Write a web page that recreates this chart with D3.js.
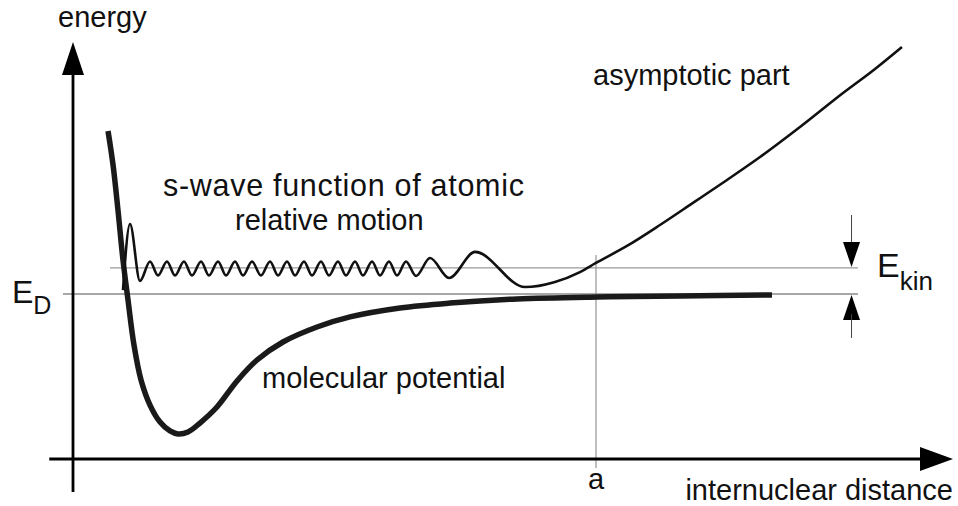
<!DOCTYPE html>
<html><head><meta charset="utf-8">
<script src="https://cdn.jsdelivr.net/npm/d3@7"></script>
<style>
html,body{margin:0;padding:0;background:#fff;}
svg{display:block;}
text{font-family:"Liberation Sans",Arial,Helvetica,sans-serif;fill:#111;}
</style></head><body>
<svg id="chart" width="958" height="506"></svg>
<script>
// ---- data (internuclear distance r, energy E; arbitrary units) ----
const potentialR = [3.98, 4.55, 5.11, 5.68, 6.25, 6.93, 7.73, 8.75, 9.89, 11.02, 11.93, 13.07, 14.43, 16.36, 18.64, 20.91, 23.86, 27.73, 31.48, 37.16, 42.84, 50.45, 59.55, 68.98, 79.43];
const potentialE = [98.8, 78.2, 50.9, 20.6, -3.6, -30.9, -52.1, -67.3, -77.6, -83.0, -84.8, -83.6, -78.2, -68.5, -52.7, -40.0, -29.1, -20.0, -13.9, -8.5, -5.5, -3.0, -1.8, -1.2, -0.6];

const waveR = [5.68, 6.48, 7.61,
  8.75, 9.66, 10.68, 11.59, 12.61, 13.52, 14.55, 15.45, 16.48, 17.39, 18.41, 19.32, 20.34, 21.36,
  22.39, 23.30, 24.32, 25.23, 26.25, 27.16, 28.18, 29.09, 30.11, 31.02, 32.05, 32.95, 33.98, 34.89,
  35.91, 36.82, 37.84, 38.98, 40.57, 42.73, 45.68, 51.36, 54.77, 57.61, 59.43, 62.95, 66.70, 70.45,
  74.32, 78.07, 82.61, 87.50, 91.14, 94.20];
const waveE = [2.4, 42.4, 7.9,
  19.7, 11.2, 19.7, 11.2, 19.7, 11.2, 19.7, 11.2, 19.7, 11.2, 19.7, 11.2, 19.7, 11.2,
  19.7, 11.2, 19.7, 11.2, 19.7, 11.2, 19.7, 11.2, 19.7, 11.2, 19.7, 11.2, 19.7, 11.2,
  19.7, 11.2, 19.7, 10.9, 21.8, 9.7, 25.5, 4.2, 7.3, 13.3, 18.8, 29.1, 41.8, 55.2,
  69.1, 83.0, 101.2, 121.8, 136.4, 149.7];

const levelNames = ["D", "kin"];
const levelValues = [0, 15.8];          // E_D and E_D + E_kin
const markerR = 59.43;                  // r = a
const markerLabel = "a";
const axisLabels = ["internuclear distance", "energy"];
const curveLabels = ["s-wave function of atomic", "relative motion", "molecular potential", "asymptotic part"];

// ---- drawing ----
const svg = d3.select("#chart");
const x = d3.scaleLinear().domain([0, 100]).range([73, 953]);
const y = d3.scaleLinear().domain([-100, 150]).range([459, 46.5]);

const potential = potentialR.map((r, i) => [r, potentialE[i]]);
const wave = waveR.map((r, i) => [r, waveE[i]]);

// reference lines
svg.append("line")
  .attr("x1", x(-1.14)).attr("x2", x(89.2))
  .attr("y1", y(levelValues[0])).attr("y2", y(levelValues[0]))
  .attr("stroke", "#8a8a8a").attr("stroke-width", 1.3);
svg.append("line")
  .attr("x1", x(4.2)).attr("x2", x(89.2))
  .attr("y1", y(levelValues[1])).attr("y2", y(levelValues[1]))
  .attr("stroke", "#9a9a9a").attr("stroke-width", 1.3);
svg.append("line")
  .attr("x1", x(markerR)).attr("x2", x(markerR))
  .attr("y1", y(23.6)).attr("y2", y(-105.5))
  .attr("stroke", "#8a8a8a").attr("stroke-width", 1.1);

const line = d3.line().x(d => x(d[0])).y(d => y(d[1]));

svg.append("path").datum(potential)
  .attr("d", line.curve(d3.curveCatmullRom.alpha(0.5)))
  .attr("fill", "none").attr("stroke", "#1a1a1a").attr("stroke-width", 5.5);

svg.append("path").datum(wave)
  .attr("d", d3.line().x(d => x(d[0])).y(d => y(d[1])).curve(d3.curveMonotoneX))
  .attr("fill", "none").attr("stroke", "#111").attr("stroke-width", 2.6)
  .attr("stroke-linejoin", "round");

// axes
const ax = x(0), ay = y(-100);
svg.append("line").attr("x1", ax).attr("x2", ax).attr("y1", y(-120)).attr("y2", 70)
  .attr("stroke", "#000").attr("stroke-width", 2.8);
svg.append("path").attr("d", `M${ax},42 L${ax - 11},75 L${ax + 11},75 Z`).attr("fill", "#000");
svg.append("line").attr("x1", x(-2.7)).attr("x2", 925).attr("y1", ay).attr("y2", ay)
  .attr("stroke", "#000").attr("stroke-width", 2.8);
svg.append("path").attr("d", `M953,${ay} L920,${ay - 12} L920,${ay + 12} Z`).attr("fill", "#000");

// E_kin arrows
const kx = x(88.47);
const yTop = y(levelValues[1]), yBot = y(levelValues[0]);
svg.append("line").attr("x1", kx).attr("x2", kx).attr("y1", 215).attr("y2", yTop - 20)
  .attr("stroke", "#444").attr("stroke-width", 1);
svg.append("path").attr("d", `M${kx},${yTop - 1} L${kx - 8.5},${yTop - 26} L${kx + 8.5},${yTop - 26} Z`).attr("fill", "#000");
svg.append("path").attr("d", `M${kx},${yBot + 1} L${kx - 8.5},${yBot + 26} L${kx + 8.5},${yBot + 26} Z`).attr("fill", "#000");
svg.append("line").attr("x1", kx).attr("x2", kx).attr("y1", yBot + 20).attr("y2", 338)
  .attr("stroke", "#444").attr("stroke-width", 1);

// texts
const fs = 29;
function label(t, px, py, size, anchor) {
  return svg.append("text").attr("x", px).attr("y", py).attr("font-size", size)
    .attr("text-anchor", anchor || "start").text(t);
}
label(axisLabels[1], 58, 27, fs);
label(axisLabels[0], 953, 500, fs, "end");
label(markerLabel, x(markerR), 489, fs, "middle");
label(curveLabels[0], 163, 196, 30.5).attr("letter-spacing", 0.7);
label(curveLabels[1], 235, 230, fs);
label(curveLabels[2], 262, 388, fs);
label(curveLabels[3], 593, 85, fs);

const ed = svg.append("text").attr("x", 12).attr("y", 303);
ed.append("tspan").attr("font-size", 32).text("E");
ed.append("tspan").attr("font-size", 25).attr("dy", 11).text(levelNames[0]);
const ek = svg.append("text").attr("x", 877).attr("y", 277);
ek.append("tspan").attr("font-size", 34).text("E");
ek.append("tspan").attr("font-size", 26).attr("dy", 13).text(levelNames[1]);
</script>
</body></html>
